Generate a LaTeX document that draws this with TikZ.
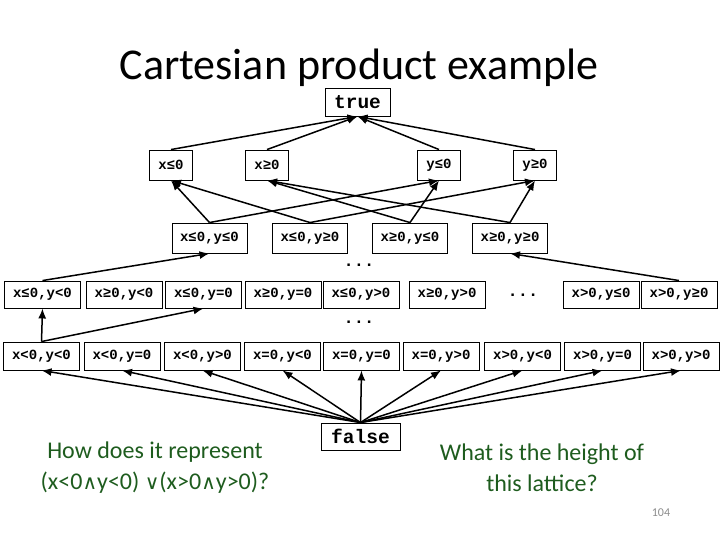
\documentclass[tikz,border=0pt]{standalone}
\usepackage{fontspec}
\setmainfont{Carlito}
\newfontfamily\monob{Liberation Mono}
\newfontfamily\symf{DejaVu Sans}
\usetikzlibrary{arrows.meta}
\definecolor{qgreen}{RGB}{30,92,30}
\definecolor{pgray}{RGB}{140,140,140}
\begin{document}
\begin{tikzpicture}[x=1pt,y=-1pt,
  box/.style={draw, line width=0.9pt, inner sep=0pt, font=\monob\bfseries\fontsize{14}{14}\selectfont},
  tf/.style={draw, line width=0.9pt, inner sep=0pt, minimum height=28pt, font=\monob\bfseries\fontsize{19.5}{19.5}\selectfont},
  l1/.style={box, minimum width=43pt, minimum height=30pt},
  l2/.style={box, minimum width=75pt, minimum height=30pt},
  l3/.style={box, minimum width=76pt, minimum height=27pt},
  l4/.style={box, minimum width=76pt, minimum height=28pt},
  dots/.style={font=\monob\bfseries\fontsize{17}{17}\selectfont, inner sep=0pt},
  arr/.style={line width=1.5pt, -{Latex[length=10pt,width=8pt]}},
  qtext/.style={text=qgreen, align=center, font=\fontsize{24}{31}\selectfont}
]
\useasboundingbox (0,0) rectangle (720,540);
\node[anchor=base] (title) at (359,80) {\fontsize{44}{44}\selectfont Cartesian product example};

\node[tf, minimum width=65pt] (top) at (357.5,102) {true};
\node[tf, minimum width=79pt, minimum height=27pt] (bot) at (360.5,436.5) {false};

\node[l1] (a1) at (171,165) {x≤0};
\node[l1] (a2) at (267,165) {x≥0};
\node[l1] (a3) at (439,165) {y≤0};
\node[l1] (a4) at (535,165) {y≥0};

\node[l2] (b1) at (209.5,238) {x≤0,y≤0};
\node[l2] (b2) at (310,238) {x≤0,y≥0};
\node[l2] (b3) at (410,238) {x≥0,y≤0};
\node[l2] (b4) at (510,238) {x≥0,y≥0};

\node[dots] (dt1) at (359,265) {...};

\node[l3] (c1) at (42.5,294.5) {x≤0,y<0};
\node[l3] (c2) at (124,294.5) {x≥0,y<0};
\node[l3] (c3) at (203.5,294.5) {x≤0,y=0};
\node[l3] (c4) at (283,294.5) {x≥0,y=0};
\node[l3] (c5) at (361,294.5) {x≤0,y>0};
\node[l3] (c6) at (447,294.5) {x≥0,y>0};
\node[dots] (dt2) at (523,295) {...};
\node[l3] (c7) at (601,294.5) {x>0,y≤0};
\node[l3] (c8) at (679,294.5) {x>0,y≥0};

\node[dots] (dt3) at (359,322) {...};

\node[l4] (d1) at (41.5,356) {x<0,y<0};
\node[l4] (d2) at (122,356) {x<0,y=0};
\node[l4] (d3) at (202.5,356) {x<0,y>0};
\node[l4] (d4) at (282.5,356) {x=0,y<0};
\node[l4] (d5) at (361.5,356) {x=0,y=0};
\node[l4] (d6) at (441,356) {x=0,y>0};
\node[l4] (d7) at (522.5,356) {x>0,y<0};
\node[l4] (d8) at (602.5,356) {x>0,y=0};
\node[l4] (d9) at (681,356) {x>0,y>0};

% level 1 -> true
\foreach \n in {a1,a2,a3,a4} \draw[arr] (\n.north) -- (top.south);
% level 2 -> level 1
\draw[arr] (b1.north) -- (a1.south);
\draw[arr] (b1.north) -- (a3.south);
\draw[arr] (b2.north) -- (a1.south);
\draw[arr] (b2.north) -- (a4.south);
\draw[arr] (b3.north) -- (a2.south);
\draw[arr] (b3.north) -- (a3.south);
\draw[arr] (b4.north) -- (a2.south);
\draw[arr] (b4.north) -- (a4.south);
% level 3 -> level 2
\draw[arr] (c1.north) -- (b1.south);
\draw[arr] (c8.north) -- (b4.south);
% level 4 -> level 3
\draw[arr] (d1.north) -- (c1.south);
\draw[arr] (d1.north) -- (c3.south);
% false -> level 4
\foreach \n in {d1,d2,d3,d4,d5,d6,d7,d8,d9} \draw[arr] (bot.north) -- (\n.south);

\node[qtext] (q1) at (155,468) {How does it represent\\(x<0{\symf\fontsize{20}{20}\selectfont ∧}y<0) {\symf\fontsize{20}{20}\selectfont ∨}(x>0{\symf\fontsize{20}{20}\selectfont ∧}y>0)?};
\node[qtext] (q2) at (542,468) {What is the height of\\this lattice?};
\node[text=pgray, font=\fontsize{12}{12}\selectfont] (pg) at (661,513) {104};
\end{tikzpicture}
\end{document}
